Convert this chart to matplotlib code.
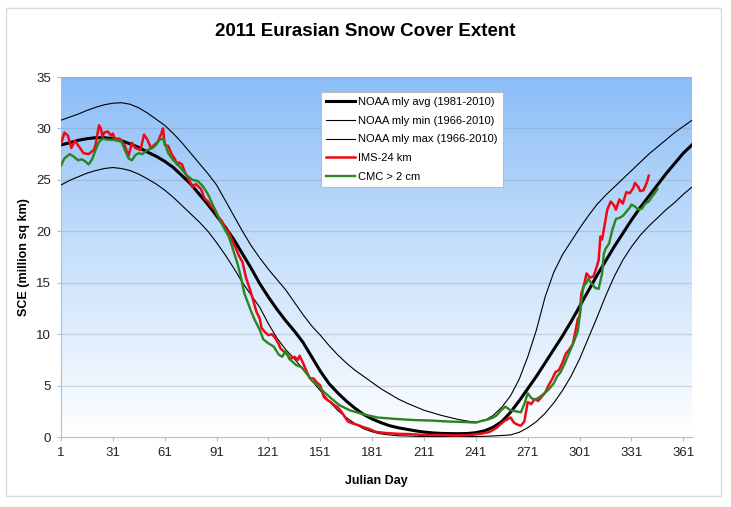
"""
2011 Eurasian snow cover extent vs NOAA climatology
"""
import matplotlib.pyplot as plt
import numpy as np
from matplotlib.colors import LinearSegmentedColormap
from matplotlib.patches import Rectangle

# ---- data ----
# NOAA climatology curves, read every 5 days
clim_day = [1, 6, 11, 16, 21, 26, 31, 36, 41, 46, 51, 56, 61, 66, 71, 76, 81, 86, 91, 96,
            101, 106, 111, 116, 121, 126, 131, 136, 141, 146, 151, 156, 161, 166, 171, 176,
            181, 186, 191, 196, 201, 206, 211, 216, 221, 226, 231, 236, 241, 246, 251, 256,
            261, 266, 271, 276, 281, 286, 291, 296, 301, 306, 311, 316, 321, 326, 331, 336,
            341, 346, 351, 356, 361, 366]
avg_sce = [28.4, 28.6, 28.85, 29.0, 29.1, 29.1, 29.0, 28.8, 28.5, 28.15, 27.7, 27.3, 26.8,
           26.2, 25.4, 24.6, 23.6, 22.6, 21.5, 20.4, 19.2, 17.8, 16.4, 14.9, 13.6, 12.4, 11.3,
           10.3, 9.2, 7.8, 6.4, 5.2, 4.3, 3.5, 2.8, 2.2, 1.75, 1.4, 1.1, 0.9, 0.75, 0.6, 0.48,
           0.4, 0.35, 0.33, 0.32, 0.34, 0.42, 0.6, 0.95, 1.5, 2.4, 3.5, 4.7, 5.9, 7.2, 8.5, 9.8,
           11.2, 12.7, 14.2, 15.7, 17.1, 18.5, 19.8, 21.1, 22.3, 23.4, 24.5, 25.6, 26.6, 27.6,
           28.4]
max_sce = [30.8, 31.1, 31.4, 31.75, 32.05, 32.3, 32.45, 32.5, 32.35, 32.0, 31.5, 30.9, 30.3,
           29.5, 28.6, 27.6, 26.6, 25.6, 24.5, 23.0, 21.5, 20.0, 18.6, 17.4, 16.3, 15.3, 14.3,
           13.1, 11.9, 10.8, 9.9, 8.9, 8.0, 7.2, 6.5, 5.9, 5.3, 4.7, 4.2, 3.7, 3.3, 2.95, 2.6,
           2.35, 2.1, 1.9, 1.7, 1.55, 1.45, 1.6, 2.1, 2.9, 4.0, 5.6, 7.8, 10.4, 13.6, 16.0,
           17.7, 19.0, 20.3, 21.5, 22.6, 23.5, 24.3, 25.1, 25.9, 26.7, 27.5, 28.2, 28.9, 29.6,
           30.2, 30.8]
min_sce = [24.5, 24.95, 25.3, 25.65, 25.9, 26.1, 26.2, 26.1, 25.9, 25.55, 25.1, 24.6, 24.0,
           23.3, 22.5, 21.7, 20.9, 20.0, 18.9, 17.7, 16.4, 15.0, 13.8, 12.6, 11.0, 9.6, 8.5,
           7.6, 6.6, 5.5, 4.5, 3.5, 2.6, 1.9, 1.3, 0.8, 0.5, 0.3, 0.2, 0.12, 0.1, 0.07, 0.05,
           0.05, 0.05, 0.05, 0.05, 0.05, 0.05, 0.07, 0.1, 0.15, 0.2, 0.45, 0.9, 1.5, 2.3, 3.3,
           4.5, 5.9, 7.6, 9.6, 11.6, 13.7, 15.6, 17.2, 18.5, 19.6, 20.5, 21.3, 22.1, 22.8, 23.6,
           24.3]

ims_day = [1, 3, 5, 7, 9, 12, 14, 17, 20, 21, 22, 23, 24, 25, 26, 28, 30, 31, 32, 35, 38, 40,
           42, 44, 47, 49, 51, 53, 55, 57, 59, 60, 61, 63, 65, 67, 68, 69, 71, 73, 75, 77, 79,
           82, 84, 86, 88, 90, 92, 94, 96, 98, 100, 102, 104, 106, 108, 110, 112, 114, 116,
           117, 119, 121, 123, 125, 127, 128, 130, 132, 134, 136, 138, 139, 141, 143, 145, 147,
           149, 151, 153, 155, 157, 159, 161, 163, 165, 167, 170, 173, 176, 179, 183, 188, 192,
           197, 203, 210, 220, 230, 238, 245, 249, 251, 253, 255, 257, 259, 261, 263, 265, 267,
           269, 271, 273, 275, 277, 279, 281, 283, 285, 287, 289, 291, 293, 295, 297, 298, 300,
           301, 302, 303, 305, 307, 309, 311, 312, 313, 314, 316, 317, 319, 321, 322, 324, 326,
           328, 330, 332, 333, 335, 336, 338, 340, 341]
ims_sce = [28.5, 29.6, 29.3, 28.1, 28.8, 28.1, 27.6, 27.5, 27.9, 28.4, 29.4, 30.3, 30.0, 29.2,
           29.6, 29.7, 29.3, 29.5, 29.0, 29.0, 28.3, 27.3, 28.6, 28.1, 27.9, 29.4, 28.9, 28.1,
           28.4, 28.7, 29.5, 30.0, 28.4, 28.3, 27.5, 27.0, 26.5, 26.7, 26.5, 25.6, 25.0, 24.3,
           24.6, 24.1, 23.2, 22.9, 22.4, 22.1, 21.4, 21.0, 20.3, 19.9, 19.1, 18.4, 17.6, 17.0,
           15.5, 14.5, 13.4, 12.2, 11.5, 10.6, 10.2, 9.9, 10.0, 9.6, 9.0, 8.6, 8.3, 8.0, 7.6,
           7.8, 7.5, 7.9, 7.2, 6.4, 5.7, 5.7, 5.3, 5.0, 3.9, 3.6, 3.4, 3.1, 2.9, 2.5, 2.0, 1.5,
           1.3, 1.15, 0.95, 0.8, 0.5, 0.4, 0.35, 0.3, 0.28, 0.2, 0.2, 0.15, 0.2, 0.35, 0.5, 0.7,
           0.9, 1.2, 1.5, 1.7, 1.9, 1.4, 1.2, 1.1, 1.5, 3.4, 3.2, 3.7, 3.5, 3.9, 4.3, 5.0, 5.6,
           6.3, 6.5, 7.2, 8.1, 8.5, 9.0, 9.8, 11.5, 11.7, 14.0, 14.4, 15.9, 15.5, 15.6, 16.6,
           17.2, 19.5, 19.2, 21.1, 22.1, 22.9, 22.5, 22.1, 23.1, 22.7, 23.8, 23.7, 24.2, 24.7,
           24.3, 23.9, 24.0, 24.8, 25.4]

cmc_day = [1, 3, 6, 8, 11, 13, 15, 17, 19, 21, 23, 25, 28, 31, 34, 36, 38, 40, 42, 44, 46, 48,
           51, 54, 56, 58, 60, 61, 63, 66, 68, 71, 74, 77, 80, 83, 86, 89, 92, 95, 98, 100, 103,
           105, 107, 109, 111, 113, 116, 118, 121, 124, 127, 129, 131, 133, 135, 137, 140, 143,
           146, 149, 153, 157, 162, 168, 176, 184, 195, 205, 215, 226, 235, 241, 245, 248, 251,
           253, 255, 258, 261, 264, 267, 269, 271, 273, 275, 278, 281, 283, 286, 288, 290, 292,
           294, 296, 298, 300, 301, 302, 303, 305, 306, 308, 310, 312, 314, 315, 316, 318, 320,
           322, 324, 326, 328, 330, 331, 333, 335, 337, 339, 341, 343, 344, 346]
cmc_sce = [26.4, 27.1, 27.5, 27.3, 26.9, 27.0, 26.8, 26.5, 27.0, 27.9, 28.7, 29.0, 28.9, 28.9,
           28.8, 28.7, 27.9, 27.1, 26.9, 27.4, 27.6, 27.5, 27.9, 28.1, 28.4, 28.9, 29.0, 28.6,
           27.6, 26.9, 26.6, 26.0, 25.4, 25.0, 24.9, 24.4, 23.6, 22.5, 21.4, 20.4, 19.5, 18.5,
           16.9, 15.6, 14.0, 13.1, 12.2, 11.4, 10.4, 9.5, 9.1, 8.8, 8.0, 7.8, 8.4, 7.6, 7.3,
           7.0, 6.8, 6.2, 5.5, 5.1, 4.4, 3.8, 3.1, 2.6, 2.2, 1.9, 1.75, 1.65, 1.6, 1.5, 1.45,
           1.4, 1.6, 1.7, 1.9, 2.1, 2.5, 2.95, 2.6, 2.5, 2.4, 3.2, 4.25, 3.8, 3.6, 3.9, 4.3, 4.6,
           5.2, 5.9, 6.3, 7.0, 7.8, 8.6, 9.4, 10.3, 11.7, 13.0, 14.6, 15.0, 15.4, 14.9, 14.5,
           14.4, 15.9, 17.8, 18.3, 18.8, 20.2, 21.2, 21.3, 21.5, 21.9, 22.3, 22.6, 22.4, 22.1,
           22.2, 22.7, 22.9, 23.4, 23.6, 24.1]

xticks = [1, 31, 61, 91, 121, 151, 181, 211, 241, 271, 301, 331, 361]
yticks = [0, 5, 10, 15, 20, 25, 30, 35]

plt.rcParams['font.family'] = ['Liberation Sans', 'DejaVu Sans']

fig = plt.figure(figsize=(7.31, 5.07), dpi=100)
ax = fig.add_axes([61/731, 1-437/507, 631/731, 360/507])

# outer chart border
fig.patches.append(Rectangle((6/731, 1-496/507), 715/731, 488/507, transform=fig.transFigure,
                             facecolor='none', edgecolor='#D9D9D9', linewidth=1))

# gradient plot area (blue at top -> white at bottom)
grad = LinearSegmentedColormap.from_list('sky', ['#FFFFFF', '#C9E1FB', '#8BBDF7'])
ax.imshow(np.linspace(0, 1, 256)[:, None], extent=[1, 366, 0, 35], origin='lower',
          aspect='auto', cmap=grad, zorder=0)

for v in yticks[1:]:
    ax.axhline(v, color='#7E8FA8', alpha=0.3, linewidth=1, zorder=1)

ax.plot(clim_day, avg_sce, color='black', linewidth=2.2, label='NOAA mly avg (1981-2010)', zorder=3)
ax.plot(clim_day, min_sce, color='black', linewidth=0.8, label='NOAA mly min (1966-2010)', zorder=3)
ax.plot(clim_day, max_sce, color='black', linewidth=0.8, label='NOAA mly max (1966-2010)', zorder=3)
ax.plot(ims_day, ims_sce, color='#EE0A14', linewidth=1.8, label='IMS-24 km', zorder=4)
ax.plot(cmc_day, cmc_sce, color='#2A8520', linewidth=1.7, label='CMC > 2 cm', zorder=5)

ax.set_xlim(1, 366)
ax.set_ylim(0, 35)
ax.set_xticks(xticks)
ax.set_yticks(yticks)
ax.tick_params(axis='both', labelsize=9.5, colors='#9DC3E6', labelcolor='#222222', length=3)
ax.tick_params(axis='x', pad=4)
ax.tick_params(axis='y', pad=4)
for s in ['top', 'right']:
    ax.spines[s].set_visible(False)
for s in ['left', 'bottom']:
    ax.spines[s].set_color('#9DC3E6')

ax.set_ylabel('SCE (million sq km)', fontsize=9, fontweight='bold')
ax.yaxis.set_label_coords(-0.049, 0.5)
ax.set_xlabel('Julian Day', fontsize=9, fontweight='bold')
ax.xaxis.set_label_coords(0.5, -0.106)

fig.text(0.5, 1-32/507, '2011 Eurasian Snow Cover Extent', ha='center', va='center',
         fontsize=13.5, fontweight='bold')

leg = ax.legend(loc='upper left', bbox_to_anchor=(0.412, 0.958), borderaxespad=0,
                fontsize=8, handlelength=2.6, handletextpad=0.3, labelspacing=0.78,
                borderpad=0.45, fancybox=False, edgecolor='#BBBBBB', framealpha=1)
leg.get_frame().set_linewidth(0.8)

plt.savefig('out.png', dpi=100)
